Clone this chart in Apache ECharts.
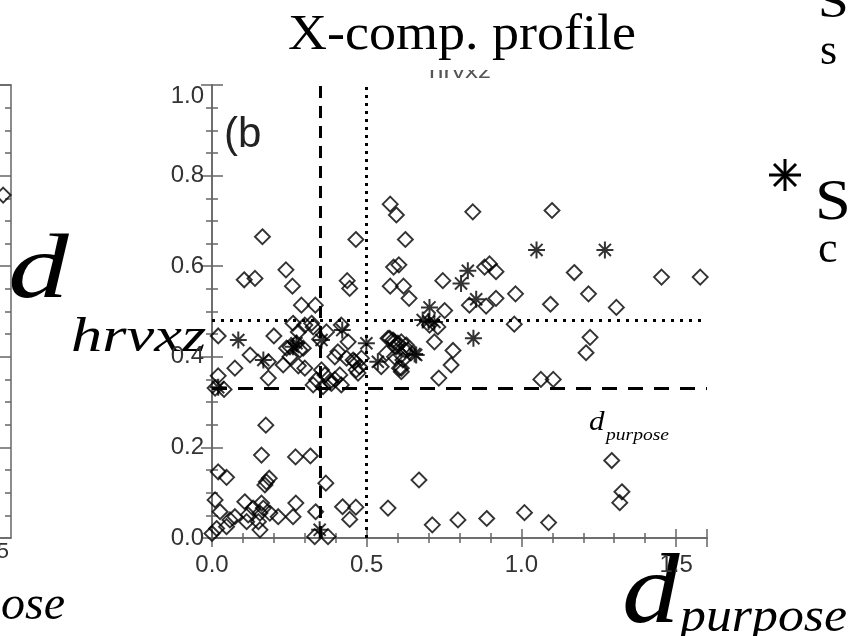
<!DOCTYPE html>
<html>
<head>
  <meta charset="utf-8" />
  <title>X-comp. profile</title>
  <script src="https://cdn.jsdelivr.net/npm/echarts@6/dist/echarts.min.js"></script>
  <style>
    html, body { margin: 0; padding: 0; background: #fff; }
  </style>
</head>
<body>
  <div id="chart" style="width: 850px; height: 636px;"></div>
  <script type="text/javascript">

    // diamonds: all cases, [d_purpose, d_hrvxz]
    let diamonds = [
      [0.163, 0.665], [0.104, 0.570], [0.139, 0.573], [0.239, 0.592], [0.260, 0.556], [0.289, 0.514],
      [0.334, 0.514], [0.437, 0.568], [0.445, 0.551], [0.465, 0.659], [0.576, 0.737], [0.596, 0.713],
      [0.625, 0.659], [0.587, 0.598], [0.604, 0.603], [0.576, 0.556], [0.619, 0.556], [0.637, 0.529],
      [0.746, 0.568], [0.752, 0.502], [0.843, 0.720], [0.881, 0.598], [0.897, 0.605], [0.918, 0.588],
      [0.832, 0.514], [0.886, 0.512], [0.918, 0.529],
      [1.099, 0.723], [1.171, 0.586], [1.453, 0.576], [0.981, 0.539], [1.094, 0.516], [1.217, 0.539],
      [1.307, 0.509], [1.578, 0.576], [0.977, 0.472], [0.779, 0.414], [0.773, 0.382], [1.222, 0.443],
      [1.209, 0.409], [1.063, 0.350], [1.103, 0.350], [1.292, 0.171], [1.325, 0.102], [1.318, 0.078],
      [0.795, 0.040], [0.888, 0.043], [1.010, 0.056], [1.088, 0.034],
      [0.703, 0.470], [0.730, 0.466], [0.719, 0.433], [0.612, 0.433], [0.623, 0.415], [0.617, 0.393],
      [0.612, 0.375], [0.733, 0.353],
      [0.020, 0.446], [0.200, 0.446], [0.123, 0.404], [0.182, 0.389], [0.074, 0.375], [0.182, 0.353],
      [0.020, 0.358], [0.039, 0.328], [0.010, 0.331], [0.241, 0.419], [0.273, 0.430], [0.279, 0.455],
      [0.300, 0.470], [0.327, 0.466], [0.230, 0.382], [0.279, 0.380], [0.300, 0.375], [0.348, 0.439],
      [0.370, 0.455], [0.354, 0.371], [0.365, 0.360], [0.338, 0.349], [0.386, 0.341], [0.397, 0.350],
      [0.413, 0.360], [0.418, 0.338], [0.397, 0.400], [0.418, 0.470], [0.440, 0.433], [0.435, 0.397],
      [0.456, 0.393], [0.466, 0.371], [0.477, 0.378], [0.547, 0.378], [0.574, 0.441], [0.590, 0.433],
      [0.596, 0.422], [0.612, 0.404], [0.628, 0.426], [0.633, 0.415], [0.606, 0.375], [0.612, 0.367],
      [0.262, 0.474], [0.322, 0.474], [0.407, 0.411], [0.461, 0.390], [0.483, 0.397], [0.472, 0.364],
      [0.569, 0.441], [0.585, 0.437], [0.601, 0.430], [0.564, 0.408], [0.590, 0.400], [0.252, 0.400],
      [0.284, 0.415], [0.327, 0.338], [0.359, 0.334], [0.381, 0.345], [0.295, 0.419], [0.252, 0.422],
      [0.174, 0.249], [0.160, 0.183], [0.270, 0.179], [0.318, 0.181], [0.020, 0.146], [0.047, 0.134],
      [0.176, 0.124], [0.185, 0.132], [0.171, 0.117], [0.368, 0.121], [0.669, 0.128], [0.010, 0.084],
      [0.106, 0.080], [0.133, 0.066], [0.160, 0.077], [0.166, 0.066], [0.155, 0.055], [0.026, 0.058],
      [0.058, 0.040], [0.047, 0.025], [0.074, 0.047], [0.117, 0.051], [0.112, 0.036], [0.150, 0.036],
      [0.155, 0.018], [0.187, 0.055], [0.214, 0.047], [0.262, 0.047], [0.271, 0.077], [0.335, 0.058],
      [0.422, 0.069], [0.445, 0.041], [0.465, 0.068], [0.569, 0.066], [0.712, 0.029], [0.000, 0.010],
      [0.332, 0.003], [0.375, 0.003], [0.015, 0.021]
    ];

    // asterisks: selected cases
    let stars = [
      [0.703, 0.509], [0.805, 0.562], [0.827, 0.590], [0.854, 0.527], [1.049, 0.636], [1.270, 0.636],
      [0.681, 0.481], [0.719, 0.477], [0.700, 0.478], [0.845, 0.441], [0.655, 0.406], [0.085, 0.437],
      [0.166, 0.393], [0.020, 0.333], [0.262, 0.422], [0.273, 0.430], [0.354, 0.437], [0.421, 0.459],
      [0.499, 0.430], [0.536, 0.389], [0.660, 0.404], [0.348, 0.018]
    ];

    // left panel (cut off at the page edge)
    let leftPanelDiamonds = [[1.575, 0.757]];

    // threshold lines
    let dashedX = 0.35, dottedX = 0.5;
    let dashedY = 0.33, dottedY = 0.48;

    let asterisk = 'path://M0,-1L0,1M-1,0L1,0M-0.71,-0.71L0.71,0.71M-0.71,0.71L0.71,-0.71';

    var chart = echarts.init(document.getElementById('chart'));

    var sans = '"Liberation Sans", Arial, sans-serif';
    var serif = '"Liberation Serif", "Times New Roman", serif';
    var axisLine = { show: true, lineStyle: { color: '#666', width: 1.5 } };
    var tickStyle = { color: '#666', width: 1.5 };

    function starLine(x1, y1, x2, y2) {
      return { type: 'line', shape: { x1: x1, y1: y1, x2: x2, y2: y2 }, style: { stroke: '#000', lineWidth: 3 } };
    }

    var option = {
      animation: false,
      backgroundColor: '#fff',
      grid: [
        { left: 212, top: 85, width: 495, height: 453 },
        { left: 0, top: 85, width: 11, height: 453 }
      ],
      xAxis: [
        {
          type: 'value', min: 0, max: 1.6, interval: 0.5, position: 'bottom',
          axisLine: axisLine, splitLine: { show: false },
          axisTick: { inside: true, length: 9, lineStyle: tickStyle },
          minorTick: { show: true, splitNumber: 5, length: 5, lineStyle: tickStyle },
          axisLabel: {
            margin: 15, fontFamily: sans, fontSize: 24, color: '#333', showMaxLabel: false,
            formatter: function (v) { return v > 1.55 ? '' : v.toFixed(1); }
          }
        },
        {
          type: 'value', min: 0, max: 1.6, interval: 0.5, position: 'top',
          axisLine: axisLine, splitLine: { show: false }, axisLabel: { show: false },
          axisTick: { inside: true, length: 9, lineStyle: tickStyle },
          minorTick: { show: true, splitNumber: 5, length: 5, lineStyle: tickStyle }
        },
        {
          gridIndex: 1, type: 'value', min: 1.565, max: 1.6, position: 'bottom',
          axisLine: axisLine, splitLine: { show: false }, axisLabel: { show: false }, axisTick: { show: false }
        },
        {
          gridIndex: 1, type: 'value', min: 1.565, max: 1.6, position: 'top',
          axisLine: axisLine, splitLine: { show: false }, axisLabel: { show: false }, axisTick: { show: false }
        }
      ],
      yAxis: [
        {
          type: 'value', min: 0, max: 1, interval: 0.2, position: 'left',
          axisLine: axisLine, splitLine: { show: false },
          axisTick: { inside: true, length: 11, lineStyle: tickStyle },
          minorTick: { show: true, splitNumber: 4, length: 6, lineStyle: tickStyle },
          axisLabel: {
            margin: 8, fontFamily: sans, fontSize: 24, color: '#333',
            formatter: function (v) { return v === 1 ? '{t|1.0}' : v.toFixed(1); },
            rich: { t: { fontFamily: sans, fontSize: 24, color: '#333', padding: [22, 0, 0, 0] } }
          }
        },
        {
          type: 'value', min: 0, max: 1, interval: 0.2, position: 'right',
          axisLine: axisLine, splitLine: { show: false }, axisLabel: { show: false },
          axisTick: { inside: true, length: 11, lineStyle: tickStyle },
          minorTick: { show: true, splitNumber: 4, length: 6, lineStyle: tickStyle }
        },
        {
          gridIndex: 1, type: 'value', min: 0, max: 1, interval: 0.2, position: 'right',
          axisLine: axisLine, splitLine: { show: false }, axisLabel: { show: false },
          axisTick: { inside: true, length: 11, lineStyle: tickStyle },
          minorTick: { show: true, splitNumber: 4, length: 6, lineStyle: tickStyle }
        }
      ],
      series: [
        {
          name: 'all',
          type: 'scatter',
          symbol: 'diamond',
          symbolSize: 15,
          clip: true,
          itemStyle: { color: 'rgba(0,0,0,0)', borderColor: '#000', borderWidth: 1.9 },
          data: diamonds,
          markLine: {
            silent: true,
            symbol: 'none',
            label: { show: false },
            data: [
              { xAxis: dashedX, lineStyle: { type: [12, 8], width: 3, color: '#000' } },
              { xAxis: dottedX, lineStyle: { type: [3, 5], width: 3, color: '#000' } },
              { yAxis: dashedY, lineStyle: { type: [15, 11], width: 3, color: '#000' } },
              { yAxis: dottedY, lineStyle: { type: [3, 6], width: 3, color: '#000' } }
            ]
          }
        },
        {
          name: 'selected',
          type: 'scatter',
          symbol: asterisk,
          symbolSize: 17,
          clip: true,
          itemStyle: { color: 'rgba(0,0,0,0)', borderColor: '#000', borderWidth: 2 },
          data: stars
        },
        {
          name: 'left panel',
          type: 'scatter',
          xAxisIndex: 2,
          yAxisIndex: 2,
          symbol: 'diamond',
          symbolSize: 15,
          clip: true,
          itemStyle: { color: 'rgba(0,0,0,0)', borderColor: '#000', borderWidth: 1.9 },
          data: leftPanelDiamonds
        }
      ],
      graphic: [
        { type: 'text', x: 462, y: 61, scaleX: 1.08, style: { text: 'X-comp. profile', font: '50px ' + serif, fill: '#000', align: 'center', verticalAlign: 'bottom' } },
        { type: 'text', x: 460, y: 82, scaleX: 1.3, style: { text: 'hrvxz', font: '20px ' + sans, fill: '#555', align: 'center', verticalAlign: 'bottom' } },
        { type: 'rect', z: 100, shape: { x: 400, y: 61, width: 120, height: 9 }, style: { fill: '#fff' } },
        { type: 'text', x: 224, y: 114, style: { text: '(b', font: '42px ' + sans, fill: '#222' } },
        { type: 'text', x: 589, y: 436, scaleX: 1.15, style: { text: 'd', font: 'italic 27px ' + serif, fill: '#000', verticalAlign: 'bottom' } },
        { type: 'text', x: 606, y: 444, scaleX: 1.15, style: { text: 'purpose', font: 'italic 17px ' + serif, fill: '#000', verticalAlign: 'bottom' } },
        { type: 'text', x: 8, y: 318, scaleX: 1.35, style: { text: 'd', font: 'italic 90px ' + serif, fill: '#000', verticalAlign: 'bottom' } },
        { type: 'text', x: 71, y: 362, scaleX: 1.3, style: { text: 'hrvxz', font: 'italic 48px ' + serif, fill: '#000', verticalAlign: 'bottom' } },
        { type: 'text', x: 622, y: 646, scaleX: 1.15, style: { text: 'd', font: 'italic 100px ' + serif, fill: '#000', verticalAlign: 'bottom' } },
        { type: 'text', x: 680, y: 642, scaleX: 1.08, style: { text: 'purpose', font: 'italic 48px ' + serif, fill: '#000', verticalAlign: 'bottom' } },
        { type: 'text', x: 65, y: 630, style: { text: 'purpose', font: 'italic 48px ' + serif, fill: '#000', align: 'right', verticalAlign: 'bottom' } },
        { type: 'text', x: 9, y: 563, style: { text: '1.5', font: '22px ' + sans, fill: '#333', align: 'right', verticalAlign: 'bottom' } },
        { type: 'text', x: 818, y: 28, scaleX: 1.2, style: { text: 'S', font: '46px ' + serif, fill: '#000', verticalAlign: 'bottom' } },
        { type: 'text', x: 820, y: 74, style: { text: 's', font: '44px ' + serif, fill: '#000', verticalAlign: 'bottom' } },
        starLine(785, 159, 785, 191),
        starLine(769, 175, 801, 175),
        starLine(774, 164, 796, 186),
        starLine(774, 186, 796, 164),
        { type: 'text', x: 815, y: 232, scaleX: 1.15, style: { text: 'S', font: '56px ' + serif, fill: '#000', verticalAlign: 'bottom' } },
        { type: 'text', x: 818, y: 272, style: { text: 'c', font: '44px ' + serif, fill: '#000', verticalAlign: 'bottom' } }
      ]
    };

    chart.setOption(option);
  </script>
</body>
</html>
